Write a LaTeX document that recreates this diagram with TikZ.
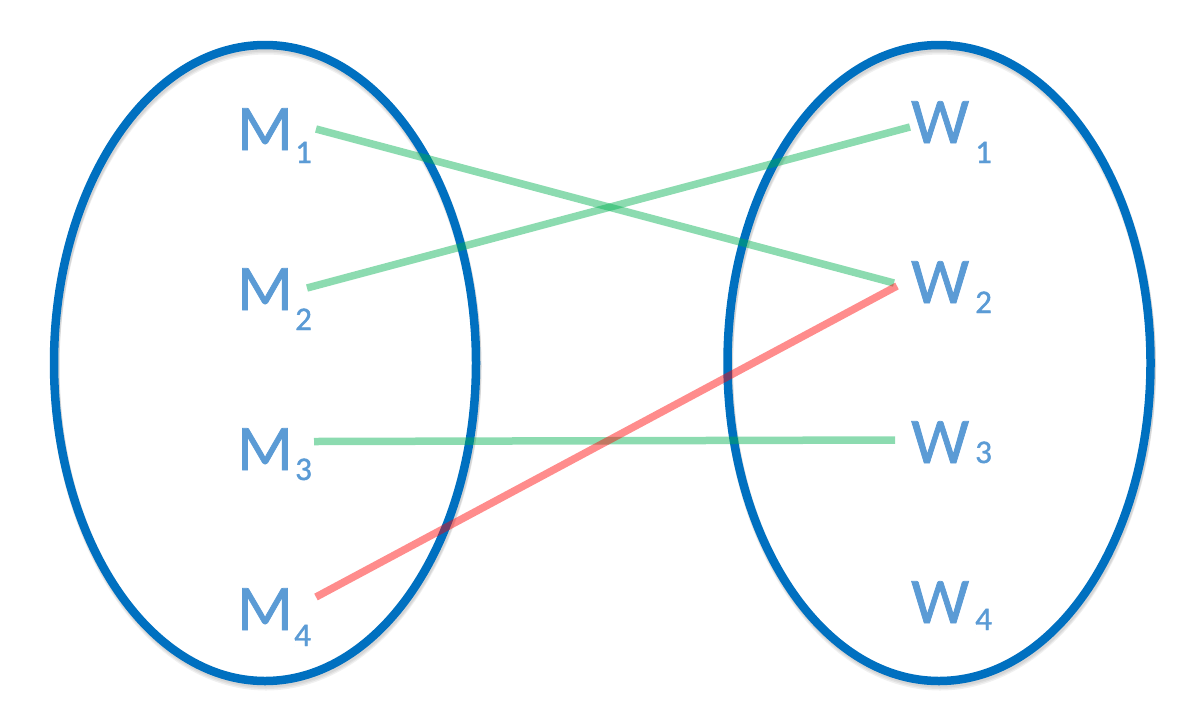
\documentclass[tikz,border=0pt]{standalone}
\usepackage{fontspec}
\setmainfont{Carlito}
\newfontfamily\labfont{Carlito}[FakeBold=1.2]
\definecolor{setblue}{RGB}{0,112,192}
\definecolor{labblue}{RGB}{91,155,213}
\definecolor{matchgreen}{RGB}{0,176,80}
\definecolor{matchred}{RGB}{255,0,0}
\begin{document}
\begin{tikzpicture}[x=1pt,y=-1pt,
  setring/.style={draw=setblue,line width=8.5pt},
  ringshadow/.style={draw=black,line width=9pt,opacity=0.06},
  big/.style={inner sep=0pt,anchor=base west,text=labblue,font=\labfont\fontsize{65}{65}\selectfont},
  idx/.style={inner sep=0pt,anchor=base west,text=labblue,font=\labfont\fontsize{33}{33}\selectfont},
  pairok/.style={draw=matchgreen,line width=7.5pt,opacity=0.45},
  pairbad/.style={draw=matchred,line width=7.5pt,opacity=0.45}]
\useasboundingbox (0,0) rectangle (1201,716);
% shadows
\foreach \d in {2,3.5,5}{
  \draw[ringshadow] (266,363+\d) ellipse [x radius=211, y radius=318];
  \draw[ringshadow] (940,363+\d) ellipse [x radius=211.5, y radius=318];
}
\draw[setring] (265,363) ellipse [x radius=211, y radius=318];
\draw[setring] (939,363) ellipse [x radius=211.5, y radius=318];
% labels
\node[big] (m1) at (237,150) {M};
\node[idx] (m1s) at (295,163) {1};
\node[big] (m2) at (237,310) {M};
\node[idx] (m2s) at (295,330) {2};
\node[big] (m3) at (237,470) {M};
\node[idx] (m3s) at (295,480) {3};
\node[big] (m4) at (237,630) {M};
\node[idx] (m4s) at (294,646) {4};
\node[big] (w1) at (911,143) {W};
\node[idx] (w1s) at (975,163) {1};
\node[big] (w2) at (911,303) {W};
\node[idx] (w2s) at (975,313) {2};
\node[big] (w3) at (911,463) {W};
\node[idx] (w3s) at (975,463) {3};
\node[big] (w4) at (911,623) {W};
\node[idx] (w4s) at (975,630) {4};
% connector ends
\coordinate (m1e) at (316,129);
\coordinate (m2e) at (307,288);
\coordinate (m3e) at (314,441.5);
\coordinate (m4e) at (316,597);
\coordinate (w1e) at (910,127);
\coordinate (w2g) at (894,283);
\coordinate (w2r) at (897,286);
\coordinate (w3e) at (895,440);
\draw[pairok] (m1e) -- (w2g);
\draw[pairok] (m2e) -- (w1e);
\draw[pairok] (m3e) -- (w3e);
\draw[pairbad] (m4e) -- (w2r);
\end{tikzpicture}
\end{document}
